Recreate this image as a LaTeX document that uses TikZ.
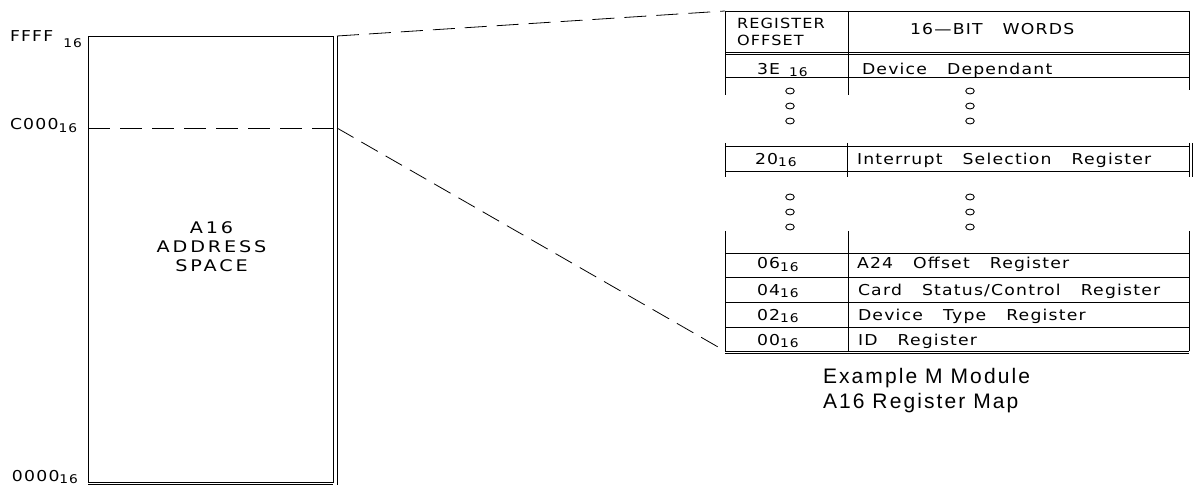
\documentclass[tikz,border=0pt]{standalone}
\usepackage{fontspec}
\usetikzlibrary{shapes.geometric}
\setmainfont{Liberation Sans}
\newfontfamily\strokefont[FakeStretch=1.15,LetterSpace=8,WordSpace=3]{DejaVu Sans}
\newfontfamily\widefont[FakeStretch=1.2,LetterSpace=18]{DejaVu Sans}
\newfontfamily\capfont[LetterSpace=10,WordSpace=1]{Liberation Sans}
\newcommand{\hexsub}[2][2.5pt]{\raisebox{-#1}{\fontsize{12}{12}\selectfont #2}}
\begin{document}
\begin{tikzpicture}[x=1pt,y=-1pt,line width=0.8pt,
  lbl/.style={inner sep=0pt,outer sep=0pt,anchor=base west,font={\strokefont\fontsize{15}{17}\selectfont}},
  captext/.style={inner sep=0pt,outer sep=0pt,anchor=base west,font={\capfont\fontsize{21}{25}\selectfont}},
  dashline/.style={dash pattern=on 22pt off 10pt},
  dotmark/.style={draw,ellipse,minimum width=8.5pt,minimum height=6pt,inner sep=0pt,line width=0.9pt}]
\useasboundingbox (0,0) rectangle (1193,486);

% ---------- left address space box ----------
\node[draw,minimum width=245pt,minimum height=446pt,inner sep=0pt,outer sep=0pt,anchor=north west] (space) at (88,36) {};
\draw ([xshift=4pt]space.north east) -- ([xshift=4pt,yshift=-2.5pt]space.south east);
\draw ([yshift=-2.5pt]space.south west) -- ([yshift=-2.5pt]space.south east);
\node[inner sep=0pt,align=center,anchor=base,font={\widefont\fontsize{16}{19}\selectfont}] (spacelbl) at (211.5,271) {A16\\ADDRESS\\SPACE};

\node[lbl] (ffff) at (10,42) {FFFF\kern10pt\hexsub[6pt]{16}};
\node[lbl] (c000) at (10,130) {C000\hexsub[3pt]{16}};
\node[lbl] (z000) at (12,481) {0000\hexsub[2pt]{16}};

\coordinate (c000L) at (88,128);
\coordinate (c000R) at (333,128);
\draw[dashline] (c000L) -- (c000R);

% ---------- table ----------
\coordinate (tTL) at (725,11);
\coordinate (tBL) at (725,351);
\coordinate (cTop) at (337,36);
\coordinate (cMid) at (337,128);
\draw[dashline] (cTop) -- (tTL);
\draw[dash pattern=on 19pt off 9pt] (cMid) -- (tBL);

% block A: header and 3E row
\draw (725,11) -- (1189,11);
\draw (725,52) -- (1189,52);
\draw (725,54.5) -- (1189,54.5);
\draw (725,77) -- (1189,77);
\draw (725,11) -- (725,95);
\draw (848,11) -- (848,95);
\draw (1189,11) -- (1189,90);

% block B: 20 row
\draw (725,146) -- (1189,146);
\draw (725,171) -- (1189,171);
\draw (725,143) -- (725,177);
\draw (847,143) -- (847,177);
\draw (1189,143) -- (1189,177);
\draw (1192,143) -- (1192,177);

% block C: bottom rows
\draw (725,231) -- (725,351);
\draw (848,231) -- (848,351);
\draw (1189,231) -- (1189,351);
\foreach \yy in {253,277,302,327,351,353.5} \draw (725,\yy) -- (1189,\yy);

% dots
\foreach \yy/\nm in {91/a,106/b,121/c,197/d,212/e,227/f} {
  \node[dotmark] (dl\nm) at (790,\yy) {};
  \node[dotmark] (dr\nm) at (970,\yy) {};
}

% texts
\node[lbl,align=left,anchor=north west,font={\strokefont\fontsize{14}{17}\selectfont}] (hoff) at (737,18) {REGISTER\\OFFSET};
\node[lbl] (hwords) at (910,35) {16—BIT WORDS};
\node[lbl] (o3e) at (757,74.5) {3E\kern9pt\hexsub{16}};
\node[lbl] (w3e) at (862,74.5) {Device Dependant};
\node[lbl] (o20) at (755,164.5) {20\hexsub{16}};
\node[lbl] (w20) at (857,164.5) {Interrupt Selection Register};
\node[lbl] (o06) at (757,269) {06\hexsub{16}};
\node[lbl] (w06) at (857,269) {A24 Offset Register};
\node[lbl] (o04) at (757,295) {04\hexsub{16}};
\node[lbl] (w04) at (858,295) {Card Status/Control Register};
\node[lbl] (o02) at (757,320) {02\hexsub{16}};
\node[lbl] (w02) at (858,320) {Device Type Register};
\node[lbl] (o00) at (757,345) {00\hexsub{16}};
\node[lbl] (w00) at (858,345) {ID Register};

% caption
\node[captext] (cap1) at (823,383) {Example M Module};
\node[captext] (cap2) at (823,408) {A16 Register Map};
\end{tikzpicture}
\end{document}
